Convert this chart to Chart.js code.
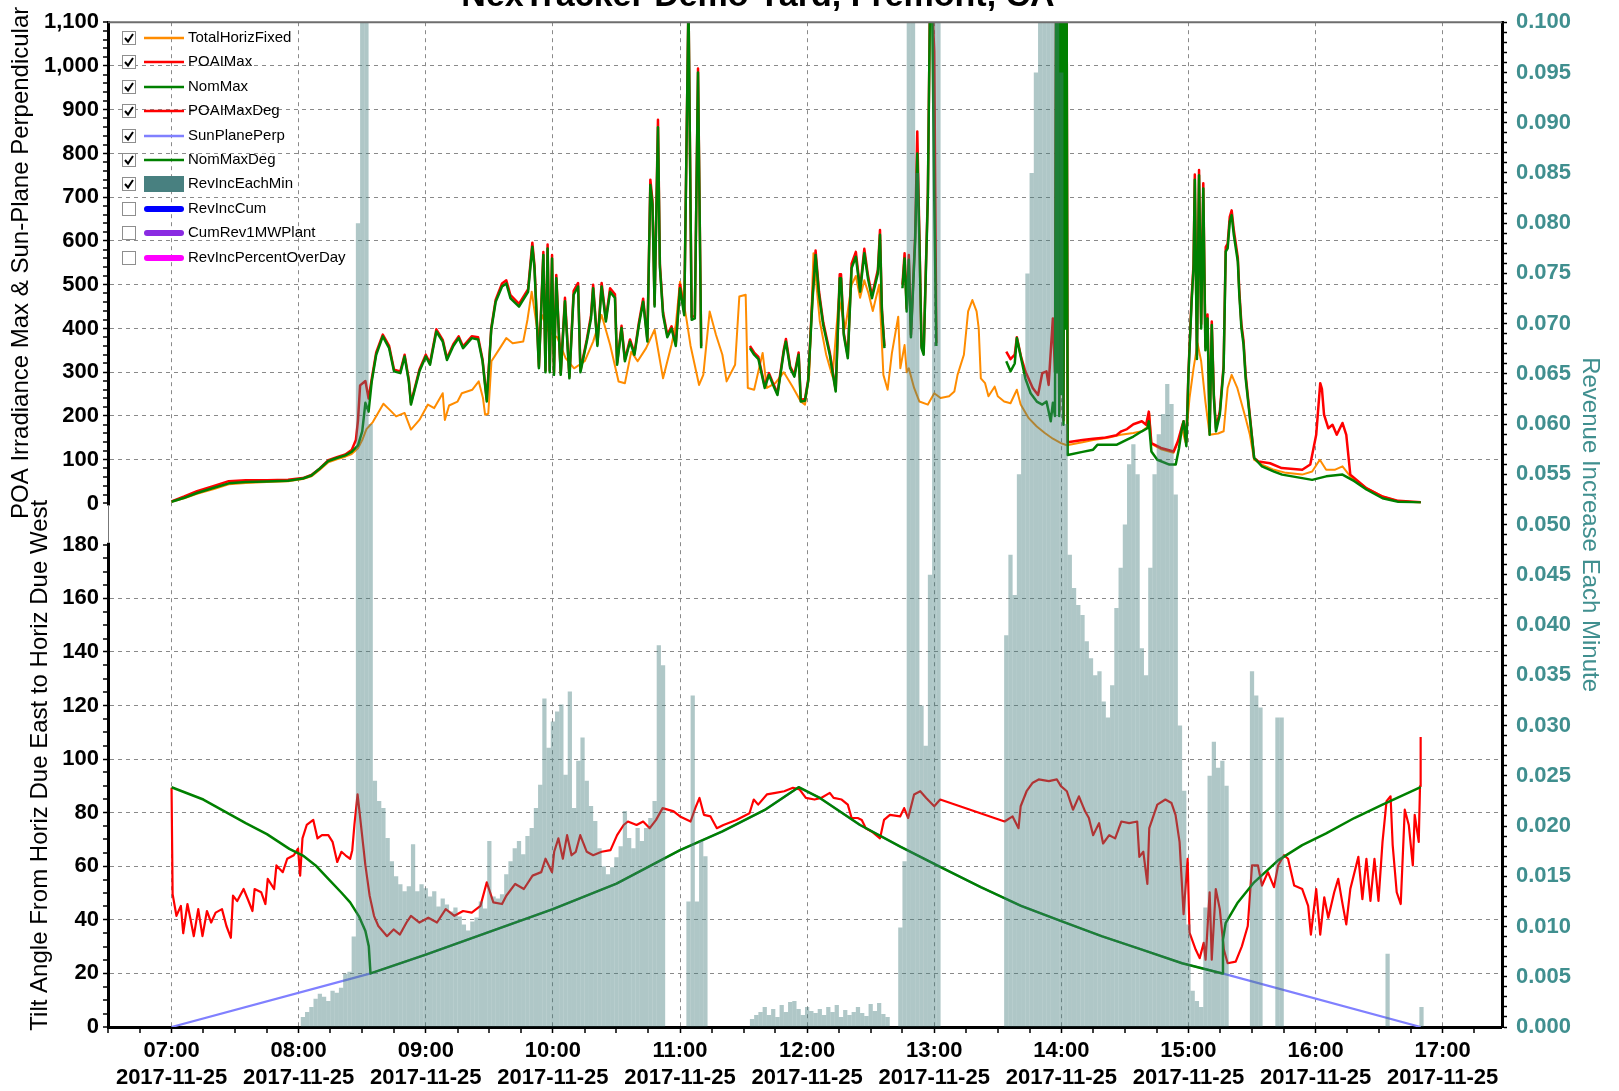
<!DOCTYPE html>
<html lang="en">
<head>
    <meta charset="UTF-8">
    <title>NexTracker Demo Yard, Fremont, CA</title>
    <script src="https://cdn.jsdelivr.net/npm/chart.js"></script>
    <style>
        body { margin: 0; background: #fff; overflow: hidden; }
        canvas { display: block; }
    </style>
</head>
<body>
    <canvas id="chart" width="1619" height="1091"></canvas>
    <script>
        // x values are minutes after 07:00 on 2017-11-25
        const chartTitle = 'NexTracker Demo Yard, Fremont, CA';
        const hourLabels = ['07:00', '08:00', '09:00', '10:00', '11:00', '12:00', '13:00', '14:00', '15:00', '16:00', '17:00'];
        const dateLabel = '2017-11-25';

        // W/m² (upper pane)
        const totalHorizFixed = [
            [0,4],[6,12],[12,22],[20,33],[27,44],[35,47],[45,49],[55,51],[62,56],[66,62],[70,77],[74,94],[78,101],[82,107],[85,113],[88,126],[90,145],[92,170],[95,186],[97,203],[100,228],[103,214],[106,199],[110,207],[113,169],[117,191],[121,226],[124,218],[128,252],[129,191],[131,224],[135,233],[137,252],[142,260],[145,279],[147,241],[148,203],[149.5,205],[151,325],[155,355],[158,378],[161,366],[166,370],[168,420],[170,484],[173,385],[175,430],[178,393],[182,380],[186,332],[190,309],[195,325],[199,370],[203,431],[207,363],[211,279],[214,275],[217,347],[220,325],[224,355],[228,397],[232,286],[236,363],[238,408],[240,507],[243,423],[245,360],[249,271],[251,294],[254,439],[257,385],[260,340],[262,279],[266,317],[268,473],[271,477],[272,264],[275,260],[279,344],[281,264],[285,275],[289,300],[293,268],[297,233],[299,226],[301,294],[303,572],[306,416],[309,340],[312,290],[315,470],[318,400],[321,500],[323,520],[325,470],[327,510],[329,480],[331,440],[334,500],[336,294],[338,260],[340,343],[343,427],[344,309],[346,362],[347,300],[348,309],[350.5,264],[353,233],[357,226],[360,252],[363,241],[367,245],[369.5,256],[371,294],[374,340],[376,439],[378,465],[380,439],[381,400],[382,286],[384,275],[385.6,245],[388.5,267],[390,245],[393,233],[396,229],[399,260],[400.8,226],[404.6,195],[408.4,176],[412.2,161],[416,148],[419.8,138],[422.6,133],[430,140],[435,145],[442,150],[448,157],[454,161],[458,165],[460.5,175],[461.5,205],[462.5,136],[467,124],[473,116],[475,140],[477,170],[478.6,140],[480.5,241],[482.4,309],[484.3,366],[486,325],[488,233],[490,157],[494,160],[496.6,165],[498.5,264],[500.4,294],[503,265],[507,195],[509,157],[511,100],[514.7,89],[520.4,77],[526,70],[533.7,66],[538.4,73],[542,100],[545,77],[549,77],[552.7,85],[556.4,62],[564,35],[571.6,16],[579,5],[589.7,2]
        ];
        const poaIMax = [
            [0,5],[6,16],[12,28],[20,40],[27,51],[35,53],[45,53],[55,54],[62,58],[66,65],[70,80],[74,99],[78,106],[82,112],[85,122],[87,145],[88,190],[89,270],[91.5,280],[93,240],[94.5,285],[96.6,345],[99.7,386],[102.7,360],[105,306],[108,302],[110,340],[112,283],[113,230],[115,268],[117,306],[120,340],[122,321],[125,398],[128,374],[130,332],[133,364],[135.5,382],[137.6,359],[141.7,382],[144.7,380],[146.8,329],[148.8,237],[150.9,401],[153,466],[156,503],[158,510],[160,476],[164,456],[168.3,490],[170.3,596],[171.3,545],[173.4,313],[175.5,575],[176.5,304],[177.5,592],[178.5,304],[179.6,568],[180.5,298],[181.6,522],[183.7,298],[185.7,470],[187.8,290],[189.8,486],[191.9,504],[193,304],[196,375],[198,430],[199,500],[201,364],[203,504],[205,421],[207,492],[209.3,478],[210.3,321],[212.4,406],[214,329],[216.4,375],[218.5,344],[220.6,414],[222.6,468],[224.6,375],[226,740],[227,692],[228,455],[229.6,877],[230.5,548],[232,437],[234,385],[236,405],[238,365],[240,500],[242,436],[244,1150],[245.5,426],[247,429],[248.5,994],[250,360],[251,null],
            [273,360],[275,345],[277,335],[280,268],[282,298],[284,274],[286,252],[289,352],[290,376],[292,313],[294,294],[296,345],[297,237],[299,239],[300.5,283],[302.5,470],[304,578],[305.6,485],[307.6,414],[310.7,345],[312.7,283],[313.5,260],[315.4,524],[316,524],[317.3,390],[319.2,337],[321,548],[323,575],[325,490],[327,582],[328.7,522],[330.6,475],[333.4,534],[334.4,625],[335.3,445],[336.5,360],[337,null],
            [345,500],[346,572],[347,446],[348,568],[349,386],[351,612],[352,850],[353,612],[354,360],[355,345],[357,712],[358,1150],[359,1150],[360,1033],[361,366],[362,null],
            [394,347],[396,330],[398,340],[399,380],[401,335],[403,302],[406.5,264],[409,248],[411,298],[413,302],[414,271],[416,423],[417,300],[417.5,1150],[418,310],[418.5,1150],[419,210],[419.5,1150],[420,260],[420.5,1150],[421,190],[421.5,1150],[422,410],[422.5,1150],[423,140],[430,145],[435,148],[440,150],[446,156],[448.3,165],[451,170],[454,181],[458,188],[460,180],[461.3,210],[462.5,138],[467,127],[473,119],[475,142],[476.7,172],[477.7,188],[479,140],[480,300],[481.5,470],[482.4,548],[483,752],[484,338],[485,762],[486,410],[487,732],[488,358],[489,432],[490,165],[491,416],[492,248],[493,172],[494.8,210],[496.6,316],[497.6,586],[498.5,594],[499.5,655],[500.4,670],[501.4,625],[503.3,562],[504,486],[505,410],[506,372],[507,294],[509,200],[511,104],[513,96],[518.5,92],[524,81],[533.7,77],[537.5,89],[540.3,157],[542.2,275],[543,262],[544,203],[546,172],[548,180],[550,157],[552.7,184],[554.5,157],[556.4,66],[564,35],[571.6,16],[579,6],[589.7,3]
        ];
        const nomMax = [
            [0,4],[6,13],[12,24],[20,36],[27,46],[35,49],[45,50],[55,52],[62,57],[66,64],[70,80],[74,97],[78,104],[82,110],[85,118],[88,133],[90,165],[91.5,230],[93,210],[94.5,279],[96.6,340],[99.7,382],[102.7,355],[105,302],[108,298],[110,336],[112,279],[113,226],[115,264],[117,302],[120,336],[122,317],[125,393],[128,370],[130,328],[133,360],[135.5,378],[137.6,355],[141.7,378],[144.7,375],[146.8,325],[148.8,233],[150.9,397],[153,461],[156,496],[158,503],[160,469],[164,450],[168.3,484],[170.3,587],[171.3,538],[173.4,309],[175.5,568],[176.5,300],[177.5,583],[178.5,300],[179.6,560],[180.5,294],[181.6,515],[183.7,294],[185.7,462],[187.8,286],[189.8,477],[191.9,496],[193,300],[196,370],[198,423],[199,492],[201,360],[203,496],[205,416],[207,484],[209.3,470],[210.3,317],[212.4,401],[214,325],[216.4,370],[218.5,340],[220.6,408],[222.6,461],[224.6,370],[226,728],[227,683],[228,450],[229.6,860],[230.5,540],[232,431],[234,380],[236,400],[238,360],[240,492],[242,430],[244,1150],[245.5,420],[247,423],[248.5,985],[250,355],[251,null],
            [273,355],[275,340],[277,330],[280,264],[282,294],[284,270],[286,248],[289,347],[290,370],[292,309],[294,290],[296,340],[297,233],[299,235],[300.5,279],[302.5,462],[304,568],[305.6,477],[307.6,408],[310.7,340],[312.7,279],[313.5,256],[315.4,515],[316,515],[317.3,385],[319.2,332],[321,538],[323,564],[325,484],[327,572],[328.7,515],[330.6,469],[333.4,526],[334.4,614],[335.3,439],[336.5,355],[337,null],
            [345,492],[346,560],[347,439],[348,557],[349,380],[351,600],[352,800],[353,600],[354,355],[355,340],[357,700],[358,1150],[359,1150],[360,700],[361,360],[362,null],
            [394,325],[396,302],[398,320],[399,378],[401,332],[403,286],[405.5,252],[408.4,233],[411,226],[413,233],[415,188],[416,230],[417,200],[417.5,1150],[418,300],[418.5,1150],[419,200],[419.5,1150],[420,250],[420.5,1150],[421,180],[421.5,1150],[422,400],[422.5,1150],[423,111],[430,118],[435,123],[437,134],[446,134],[451,146],[454,153],[458,165],[460.6,172],[461.3,188],[462.5,119],[465.3,100],[471,89],[474,89],[475.5,125],[476.7,165],[477.7,188],[479,131],[480,294],[481.5,462],[482.4,538],[483,740],[484,330],[485,750],[486,400],[487,720],[488,350],[489,423],[490,157],[491,408],[492,240],[493,165],[494.8,203],[496.6,309],[497.6,576],[498.5,583],[499.5,644],[500.4,659],[501.4,614],[503.3,553],[504,477],[505,401],[506,363],[507,286],[509,195],[511,104],[514.7,85],[520.4,73],[524.2,66],[533.7,58],[538.4,54],[545,62],[552.7,66],[558.3,51],[564,32],[571.6,12],[579,4],[589.7,2]
        ];

        // degrees (lower pane)
        const poaIMaxDeg = [
            [0,89.3],[0.5,49.6],[2.3,41.5],[4.4,45.2],[5.5,35],[7.5,45.9],[9,40],[10.5,33.9],[12.6,44],[14.6,33.9],[16.7,43.3],[18.7,39],[20.8,42.7],[23.8,44],[25.9,37.7],[28,33.3],[29,49],[31,47],[34,51.5],[36,47.7],[38.2,43.3],[39.2,51.5],[42.3,50.3],[44.3,45.9],[45.4,55.3],[48.4,51.5],[49.5,60.3],[52.5,57.8],[54.6,62.8],[57.7,64.1],[59.7,66.6],[60.7,56.5],[61.8,70.4],[63.8,75.4],[66.9,77.3],[68.9,70.4],[71,71.6],[74,71.6],[76,69.1],[78.2,61.6],[80.2,65.4],[82.2,64],[84.3,62.8],[85.3,66],[86.3,75.4],[87.8,86.8],[89.4,75.4],[91.5,60.3],[93.5,49],[95.6,41.4],[97.6,37.7],[101.7,33.9],[104.8,36.4],[107.8,34.5],[110.9,39],[113,41.5],[117,39],[121.2,40.8],[125.3,39],[129.4,44],[133.5,41.5],[137.6,43.3],[141.7,42.7],[145.8,45.2],[148.8,54],[151.9,46.5],[156,45.9],[158,49],[162.2,53.4],[166.3,51.5],[170.4,56.5],[174.5,57.8],[176.5,62.8],[179.6,57.8],[180.6,65.4],[182.6,70.4],[184.7,62.8],[186.7,71.6],[188.8,64.1],[190.8,65.4],[192.9,71.6],[196,65.4],[199,64.1],[203,65.4],[207.2,66],[210.3,71.6],[213.4,75.4],[215.4,76.7],[219.5,75.4],[222.6,76.7],[225.7,74.2],[228.7,77.3],[231.8,81.7],[237,80.5],[240,78.6],[245,76.7],[247.2,81.7],[249.2,85.5],[251.3,79.2],[254.4,78.6],[257.4,74.2],[260.5,75.4],[266.6,77.3],[272.8,79.8],[274.8,84.9],[276.9,83],[281,86.8],[285.1,87.4],[289.2,88],[293.3,89.3],[296.4,88.7],[299.4,85.5],[303.5,84.9],[306.6,85.5],[310.7,87.4],[312.5,85.5],[316.3,84.9],[319.2,83],[321,78],[323.9,78],[325.8,77.3],[327.7,74.2],[330.6,72.9],[334.4,70.4],[336.3,77.3],[339.1,79.2],[343.9,78.6],[345.8,81.7],[347.7,78],[350.5,86.8],[353.4,88],[356.2,85.5],[360,82.4],[362.8,84.9],[393.2,76.7],[397,78.6],[399.8,74.2],[400.8,82.4],[403.6,88],[406.5,91.2],[409.3,92.4],[414.1,91.8],[417.9,92.4],[419.8,89.9],[422.6,88],[425.5,81.1],[428.3,86.1],[431.2,80.5],[433,78],[435,71.6],[437.8,76.1],[439.7,68.5],[442.6,71.6],[445.4,70.4],[448.3,76.7],[452,76.1],[455.8,76.7],[456.8,63.5],[458.7,65.4],[460.6,53.4],[461.5,74.2],[465.3,83],[469.1,84.9],[472,83.6],[473.9,79.2],[475.8,69.1],[477.7,42.1],[479.6,62.8],[480.5,35.2],[483.4,28.9],[485.3,25.7],[487.2,31.4],[488.1,25.1],[490,50.3],[491,25.1],[492.9,51.5],[494.8,44],[496.7,28.9],[498.5,23.8],[502.3,24.4],[505.2,30.1],[508,37.7],[510,60.3],[512.8,60.3],[514.7,52.8],[517.5,57.8],[520.4,52.2],[522.3,60.3],[525.1,64.1],[527,62.8],[529.9,52.8],[533.7,51.5],[536.5,45.2],[537.8,34.5],[540.3,51.5],[542.2,34.5],[544.1,48.4],[546,40.8],[548.8,50.3],[550.7,55.3],[552.6,46.5],[554.5,38.3],[556.4,51.5],[560.2,63.5],[562.1,47.7],[564,62.8],[565.9,47.1],[567.8,62.8],[569.7,47.1],[571.6,69.1],[573.5,84.3],[575.4,86.1],[576.4,67.9],[578.3,50.3],[580.2,45.9],[582.1,81.1],[584,75.4],[585.9,60.3],[586.8,79.2],[588.7,69.1],[589.3,89.9],[589.6,108.2]
        ];
        const sunPlanePerp = [
            [0,0],[94,20],[120,27],[150,35.5],[180,44],[210,53.5],[240,66],[260,73],[280,81],[296,89.5],[306,85.5],[325,75.4],[344,67.3],[363,59.7],[382,52.2],[401,45.2],[420,39.5],[439,33.9],[458,28.9],[477,23.8],[496,20],[589.6,0]
        ];
        const nomMaxDeg = [
            [0,89.5],[15,84.9],[35,76.1],[45,72],[55.6,66.5],[62,64],[68,60.3],[74,55.3],[80,50.3],[84.3,46.5],[88.4,41.4],[91.5,35.8],[93.1,30.1],[93.9,20],[120,27],[150,35.5],[180,44],[210,53.5],[240,66],[260,73],[280,81],[296,89.5],[306,85.5],[325,75.4],[344,67.3],[363,59.7],[382,52.2],[401,45.2],[420,39.5],[439,33.9],[458,28.9],[477,23.8],[496,20],[496.3,32.6],[497.6,38.9],[503.3,46.5],[511,54],[522.3,62.2],[533.7,67.9],[545,72.3],[558.3,78],[571.6,83],[589.6,89.5]
        ];

        // $ per minute, two-minute bins (right axis)
        const revIncEachMin = [
            [62,.0010],[64,.0015],[66,.0020],[68,.0028],[70,.0033],[72,.0030],[74,.0026],[76,.0036],[78,.0034],[80,.0039],[82,.0053],[84,.0055],[86,.0090],[88,.0800],[90,.1000],[92,.1000],[94,.0600],[96,.0245],[98,.0225],[100,.0218],
            [102,.0188],[104,.0165],[106,.0150],[108,.0142],[110,.0135],[112,.0140],[114,.0182],[116,.0135],[118,.0142],[120,.0138],[122,.0130],[124,.0135],[126,.0120],[128,.0128],[130,.0122],[132,.0115],[134,.0119],[136,.0110],[138,.0102],[140,.0096],
            [142,.0105],[144,.0109],[146,.0125],[148,.0118],[150,.0185],[152,.0130],[154,.0128],[156,.0132],[158,.0152],[160,.0165],[162,.0178],[164,.0185],[166,.0172],[168,.0190],[170,.0198],[172,.0218],[174,.0241],[176,.0327],[178,.0278],[180,.0304],
            [182,.0314],[184,.0321],[186,.0251],[188,.0334],[190,.0218],[192,.0265],[194,.0288],[196,.0245],[198,.0220],[200,.0205],[202,.0178],[204,.0160],[206,.0152],[208,.0159],[210,.0169],[212,.0180],[214,.0215],[216,.0188],[218,.0178],[220,.0198],
            [222,.0185],[224,.0198],[226,.0208],[228,.0225],[230,.0380],[232,.0360],[244,.0125],[246,.0330],[248,.0125],[250,.0185],[252,.0170],
            [274,.0008],[276,.0012],[278,.0015],[280,.0020],[282,.0012],[284,.0018],[286,.0010],[288,.0022],[290,.0015],[292,.0025],[294,.0026],[296,.0018],[298,.0012],[300,.0020],[302,.0016],[304,.0014],[306,.0018],[308,.0012],[310,.0020],[312,.0015],
            [314,.0022],[316,.0010],[318,.0017],[320,.0012],[322,.0015],[324,.0020],[326,.0014],[328,.0011],[330,.0023],[332,.0016],[334,.0024],[336,.0013],[338,.0010],
            [344,.0099],[346,.0165],[348,.1000],[350,.1000],[352,.0850],[354,.0320],[356,.0280],[358,.0450],[360,.1000],[362,.1000],
            [394,.0390],[396,.0470],[398,.0430],[400,.0550],[402,.0650],[404,.0750],[406,.0850],[408,.0950],[410,.1000],[412,.1000],[414,.1000],[416,.1000],[418,.1000],[420,.0950],[422,.0600],[424,.0470],[426,.0437],[428,.0420],[430,.0410],[432,.0384],
            [434,.0367],[436,.0350],[438,.0354],[440,.0324],[442,.0308],[444,.0340],[446,.0417],[448,.0457],[450,.0500],[452,.0560],[454,.0580],[456,.0550],[458,.0377],[460,.0350],[462,.0457],[464,.0550],[466,.0590],[468,.0610],[470,.0640],[472,.0620],
            [474,.0530],[476,.0300],[478,.0235],[480,.0102],[482,.0036],[484,.0026],[486,.0020],[488,.0119],[490,.0250],[492,.0284],[494,.0258],[496,.0265],[498,.0240],
            [510,.0354],[512,.0330],[514,.0318],[522,.0308],[524,.0308],[574,.0073],[590,.0020]
        ];

        const FONT = "'Liberation Sans', Arial, sans-serif";
        const TEAL = '#408f8f';
        const GRID = '#8a8a8a';
        const tickFont = { family: FONT, size: 22, weight: 'bold', lineHeight: 1.2 };
        const titleFont = { family: FONT, size: 24, weight: 'normal', lineHeight: 1.2 };

        const toXY = pts => pts.map(([x, y]) => ({ x, y }));
        const steps = (from, to, step) => {
            const out = [];
            for (let v = from; v <= to + 1e-9; v += step) out.push({ value: v });
            return out;
        };

        const lineSet = (label, data, color, width, axis, order) => ({
            type: 'line', label, data: toXY(data), yAxisID: axis, order,
            borderColor: color, backgroundColor: color, borderWidth: width,
            pointRadius: 0, tension: 0, borderJoinStyle: 'round', fill: false
        });

        const datasets = [
            lineSet('TotalHorizFixed', totalHorizFixed, '#ff8c00', 2, 'yPOA', 4),
            lineSet('POAIMax', poaIMax, '#ff0000', 2.5, 'yPOA', 3),
            lineSet('NomMax', nomMax, '#008000', 2.5, 'yPOA', 2),
            lineSet('POAIMaxDeg', poaIMaxDeg, '#ff0000', 2.2, 'yTilt', 3),
            lineSet('SunPlanePerp', sunPlanePerp, '#8080ff', 2.2, 'yTilt', 4),
            lineSet('NomMaxDeg', nomMaxDeg, '#008000', 2.5, 'yTilt', 2),
            {
                type: 'bar', label: 'RevIncEachMin', data: toXY(revIncEachMin), yAxisID: 'yRev', order: 1,
                backgroundColor: 'rgba(70,125,125,0.43)', borderWidth: 0, inflateAmount: 0,
                barPercentage: 1, categoryPercentage: 1, grouped: false
            },
            { ...lineSet('RevIncCum', [], '#0000ff', 6, 'yRev', 5), hidden: true },
            { ...lineSet('CumRev1MWPlant', [], '#8a2be2', 6, 'yRev', 5), hidden: true },
            { ...lineSet('RevIncPercentOverDay', [], '#ff00ff', 6, 'yRev', 5), hidden: true }
        ];

        // title, frame edge, pane separator and checkbox legend
        const decorations = {
            id: 'decorations',
            afterDraw(chart) {
                const { ctx, chartArea, scales } = chart;
                const seg = (x1, y1, x2, y2) => { ctx.beginPath(); ctx.moveTo(x1, y1); ctx.lineTo(x2, y2); ctx.stroke(); };
                ctx.save();

                const gapTop = scales.yPOA.getPixelForValue(0) + 2;
                const gapBottom = scales.yTilt.getPixelForValue(180) - 2;
                ctx.fillStyle = '#fff';
                ctx.fillRect(chartArea.left - 3, gapTop, 6, gapBottom - gapTop);
                ctx.strokeStyle = '#777';
                ctx.lineWidth = 1;
                seg(chartArea.left + 0.5, gapTop, chartArea.left + 0.5, gapBottom);

                ctx.strokeStyle = '#6e6e6e';
                ctx.lineWidth = 2;
                seg(chartArea.left, chartArea.top, chartArea.right, chartArea.top);

                ctx.fillStyle = '#000';
                ctx.font = `bold 34px ${FONT}`;
                ctx.textAlign = 'center';
                ctx.textBaseline = 'alphabetic';
                ctx.fillText(chartTitle, 758, 6);

                ctx.font = `15px ${FONT}`;
                ctx.textAlign = 'left';
                ctx.textBaseline = 'middle';
                chart.data.datasets.forEach((ds, i) => {
                    const cy = Math.round(38 + i * 24.4);
                    const on = chart.isDatasetVisible(i);
                    ctx.fillStyle = '#fff';
                    ctx.fillRect(122, cy - 7, 14, 14);
                    ctx.strokeStyle = '#8e8e8e';
                    ctx.lineWidth = 1;
                    ctx.strokeRect(122.5, cy - 6.5, 13, 13);
                    if (on) {
                        ctx.strokeStyle = '#000';
                        ctx.lineWidth = 2;
                        ctx.beginPath();
                        ctx.moveTo(125, cy);
                        ctx.lineTo(128, cy + 3.5);
                        ctx.lineTo(133, cy - 4);
                        ctx.stroke();
                    }
                    if (ds.type === 'bar') {
                        ctx.fillStyle = 'rgb(72,128,128)';
                        ctx.fillRect(144, cy - 8, 40, 16);
                    } else {
                        ctx.strokeStyle = ds.borderColor;
                        ctx.lineWidth = on ? 2.5 : 6;
                        ctx.lineCap = on ? 'butt' : 'round';
                        seg(on ? 144 : 147, cy, on ? 184 : 181, cy);
                        ctx.lineCap = 'butt';
                    }
                    ctx.fillStyle = '#000';
                    ctx.fillText(ds.label, 188, cy);
                });
                ctx.restore();
            }
        };

        const ctx = document.getElementById('chart').getContext('2d');
        new Chart(ctx, {
            type: 'line',
            data: { datasets },
            plugins: [decorations],
            options: {
                responsive: false,
                animation: false,
                layout: { padding: { top: 21, left: 0, right: 0, bottom: 0 } },
                plugins: { legend: { display: false }, tooltip: { enabled: false } },
                scales: {
                    x: {
                        type: 'linear', min: -30, max: 628, offset: false,
                        afterBuildTicks: s => { s.ticks = steps(-30, 628, 15); },
                        afterFit: s => { s.height = 64; },
                        ticks: {
                            autoSkip: false, maxRotation: 0, minRotation: 0, padding: 5, color: '#000', font: tickFont,
                            callback: v => (v % 60 === 0 && v >= 0 && v <= 600) ? [hourLabels[v / 60], dateLabel] : ''
                        },
                        grid: {
                            offset: false, color: GRID,
                            lineWidth: c => (c.tick && c.tick.value % 60 === 0) ? 1 : 0,
                            tickLength: 6, tickWidth: 1.5, tickColor: '#000'
                        },
                        border: { color: '#000', width: 3, dash: [4, 4] }
                    },
                    yTilt: {
                        type: 'linear', position: 'left', stack: 'left', stackWeight: 524.5, weight: 0,
                        min: 0, max: 195.4,
                        afterBuildTicks: s => { s.ticks = steps(0, 180, 5); },
                        afterFit: s => { s.width = 108; },
                        ticks: {
                            autoSkip: false, padding: 4, color: '#000', font: tickFont,
                            callback: v => v % 20 === 0 ? String(v) : ''
                        },
                        grid: {
                            color: GRID,
                            lineWidth: c => (c.tick && c.tick.value % 20 === 0 && c.tick.value > 0 && c.tick.value < 180) ? 1 : 0,
                            tickLength: 5, tickWidth: 1.5, tickColor: '#000'
                        },
                        border: { color: '#000', width: 3, dash: [4, 4] },
                        title: {
                            display: true, text: 'Tilt Angle From Horiz Due East to Horiz Due West',
                            color: '#000', font: titleFont, padding: { top: 26, bottom: 0 }
                        }
                    },
                    yPOA: {
                        type: 'linear', position: 'left', stack: 'left', stackWeight: 482.2, weight: 1,
                        min: 0, max: 1100,
                        afterBuildTicks: s => { s.ticks = steps(0, 1100, 20); },
                        afterFit: s => { s.width = 108; },
                        ticks: {
                            autoSkip: false, padding: 4, color: '#000', font: tickFont,
                            callback: v => v % 100 === 0 ? v.toLocaleString('en-US') : ''
                        },
                        grid: {
                            color: GRID,
                            lineWidth: c => (c.tick && c.tick.value % 100 === 0 && c.tick.value > 0 && c.tick.value < 1100) ? 1 : 0,
                            tickLength: 5, tickWidth: 1.5, tickColor: '#000'
                        },
                        border: { color: '#000', width: 3, dash: [4, 4] },
                        title: {
                            display: true, text: 'POA Irradiance Max & Sun-Plane Perpendicular',
                            color: '#000', font: titleFont, padding: { top: 7, bottom: 0 }
                        }
                    },
                    yRev: {
                        type: 'linear', position: 'right', min: 0, max: 0.1,
                        afterBuildTicks: s => {
                            const t = [];
                            for (let i = 0; i <= 100; i++) t.push({ value: i / 1000 });
                            s.ticks = t;
                        },
                        afterFit: s => { s.width = 117; },
                        ticks: {
                            autoSkip: false, padding: 9, color: TEAL, font: tickFont,
                            callback: v => Math.round(v * 1000) % 5 === 0 ? v.toFixed(3) : ''
                        },
                        grid: { drawOnChartArea: false, tickLength: 5, tickWidth: 1.5, tickColor: '#000' },
                        border: { color: '#000', width: 3 },
                        title: {
                            display: true, text: 'Revenue Increase Each Minute',
                            color: TEAL, font: titleFont, padding: { top: 15, bottom: 0 }
                        }
                    }
                }
            }
        });
    </script>
</body>
</html>
